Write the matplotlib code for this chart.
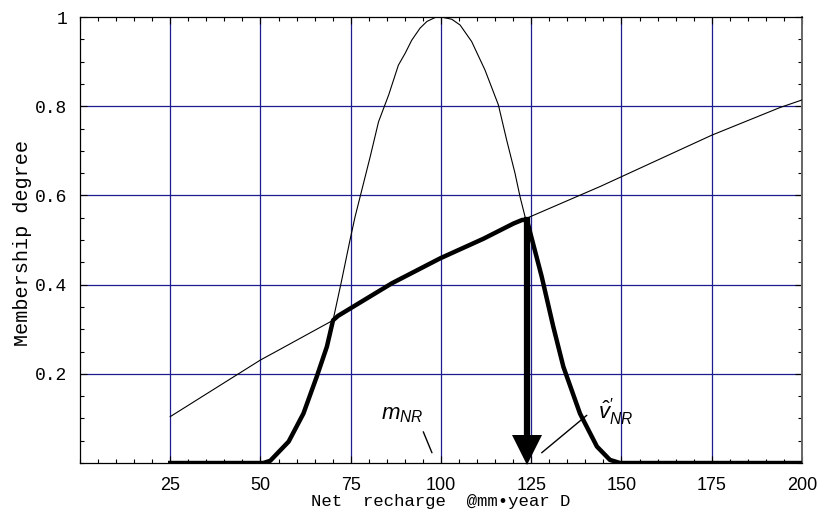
import numpy as np
import matplotlib.pyplot as plt
from matplotlib.ticker import MultipleLocator

plt.rcParams['mathtext.fontset'] = 'custom'
plt.rcParams['mathtext.it'] = 'Liberation Sans:italic'
plt.rcParams['mathtext.rm'] = 'Liberation Sans'

# membership function of the fuzzy number m_NR (bell shape)
bell_x = [50.8, 52.7, 57.8, 61.9, 65.6, 68.4, 70.1, 72.5, 74.8, 76.2, 77.6, 80.4, 82.7, 85.5,
          88.2, 90.1, 91.9, 94.2, 96.1, 98.4, 100.0, 103.0, 105.3, 108.5, 112.2, 115.9, 118.2,
          120.5, 121.9, 123.3, 123.8, 127.9, 131.1, 133.9, 138.5, 143.2, 146.8, 149.6]
bell_y = [0.0, 0.005, 0.048, 0.111, 0.194, 0.261, 0.32, 0.41, 0.50, 0.552, 0.597, 0.687, 0.765, 0.825,
          0.892, 0.919, 0.948, 0.975, 0.99, 0.999, 1.0, 0.995, 0.982, 0.945, 0.881, 0.803, 0.724,
          0.65, 0.597, 0.552, 0.545, 0.418, 0.306, 0.216, 0.111, 0.037, 0.007, 0.0]

# rising membership curve
line_x = [25, 50, 55, 70.1, 86.4, 99.8, 111.8, 120.1, 123.8, 144.1, 175, 193.9, 200]
line_y = [0.104, 0.231, 0.253, 0.32, 0.403, 0.459, 0.503, 0.537, 0.549, 0.62, 0.735, 0.797, 0.814]

# resulting (thick) membership
res_x = [25, 50.8, 52.7, 57.8, 61.9, 65.6, 68.4, 70.1, 71.5, 86.4, 99.8, 111.8, 120.1, 122.5,
         123.8, 127.9, 131.1, 133.9, 138.5, 143.2, 146.8, 149.6, 200]
res_y = [0.0, 0.0, 0.005, 0.048, 0.111, 0.194, 0.261, 0.32, 0.33, 0.403, 0.459, 0.503, 0.537, 0.545,
         0.545, 0.418, 0.306, 0.216, 0.111, 0.037, 0.007, 0.0, 0.0]

arrow_x = 123.8
arrow_top = 0.545

xticks = [25, 50, 75, 100, 125, 150, 175, 200]
yticks = [0.2, 0.4, 0.6, 0.8, 1.0]
ytick_labels = ['0.2', '0.4', '0.6', '0.8', '1']

grid_c = '#1c1c8e'

fig = plt.figure(figsize=(8.17, 5.14), dpi=100)
ax = fig.add_axes([0.0979, 0.0992, 0.8837, 0.8677])

ax.set_xlim(0, 200)
ax.set_ylim(0, 1)

for v in xticks:
    ax.axvline(v, color=grid_c, lw=0.9, zorder=1)
for v in yticks[:-1]:
    ax.axhline(v, color=grid_c, lw=0.9, zorder=1)

ax.plot(bell_x, bell_y, color='black', lw=0.8, zorder=3)
ax.plot(line_x, line_y, color='black', lw=0.8, zorder=3)
ax.plot(res_x, res_y, color='black', lw=3.2, solid_joinstyle='round', zorder=4)

# defuzzified value arrow
ax.plot([arrow_x, arrow_x], [arrow_top, 0.05], color='black', lw=4.5, zorder=5)
ax.plot([arrow_x], [0.029], marker='v', markersize=21, markeredgewidth=0,
        color='black', zorder=5, clip_on=False)

# labels for the curves
ax.text(89.2, 0.108, r'$m_{NR}$', fontsize=16, ha='center', va='center')
ax.annotate('', xy=(97.5, 0.023), xytext=(95.1, 0.070),
            arrowprops=dict(arrowstyle='-', lw=1.0, color='black', shrinkA=0, shrinkB=0))
ax.text(148.5, 0.115, r"$\hat{v}^{\prime}_{NR}$", fontsize=16, ha='center', va='center')
ax.annotate('', xy=(127.9, 0.023), xytext=(140.4, 0.107),
            arrowprops=dict(arrowstyle='-', lw=1.0, color='black', shrinkA=0, shrinkB=0))

ax.set_xticks(xticks)
ax.set_xticklabels([str(v) for v in xticks], family='Liberation Sans', fontsize=13)
ax.set_yticks(yticks)
ax.set_yticklabels(ytick_labels, family='Liberation Mono', fontsize=13)
ax.xaxis.set_minor_locator(MultipleLocator(5))
ax.yaxis.set_minor_locator(MultipleLocator(0.05))
ax.tick_params(which='both', direction='in', top=True, right=True, color='black')
ax.tick_params(which='major', length=5, width=0.8)
ax.tick_params(which='minor', length=3, width=0.8)
ax.tick_params(axis='x', pad=10)
ax.tick_params(axis='y', pad=9)

for s in ax.spines.values():
    s.set_linewidth(0.9)
    s.set_color('black')
ax.spines['right'].set_color('#666666')
ax.spines['right'].set_linewidth(1.4)

ax.set_ylabel('Membership degree', family='Liberation Mono', fontsize=14.5, va='center')
ax.yaxis.set_label_coords(-0.079, 0.493)
ax.set_xlabel('Net  recharge  @mm\u2022year D', family='Liberation Mono', fontsize=12.5, va='center')
ax.xaxis.set_label_coords(0.5, -0.087)

fig.savefig('out.png', dpi=100)
